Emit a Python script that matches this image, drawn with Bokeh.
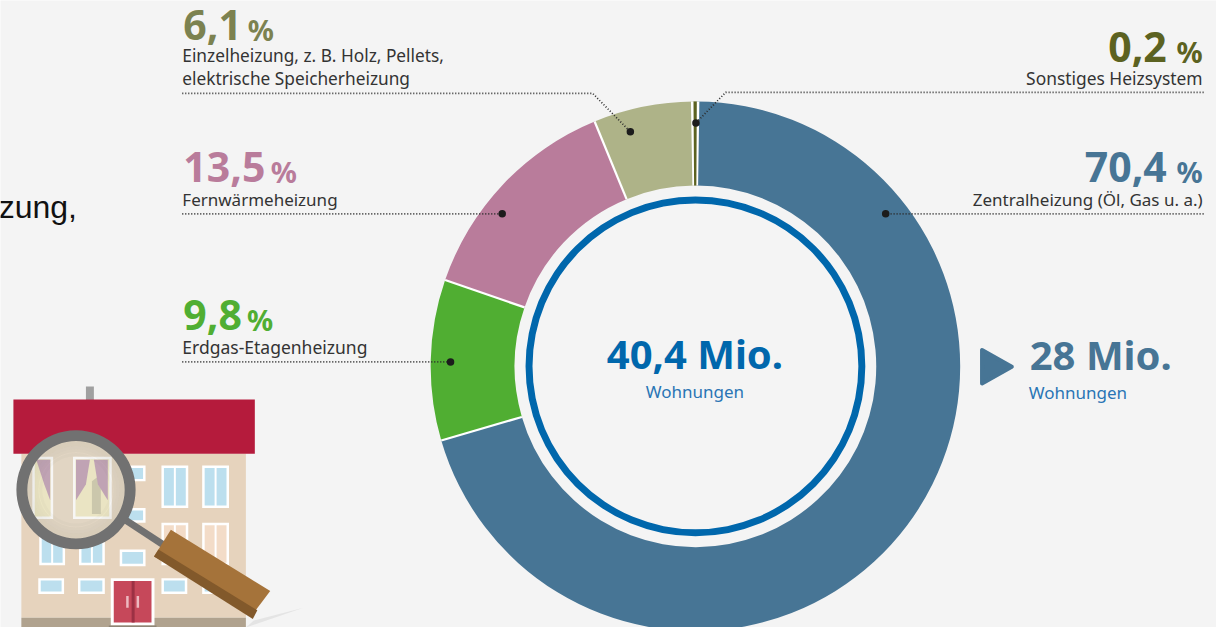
import math
from bokeh.plotting import figure
from bokeh.models import Range1d
from bokeh.core.properties import value
from bokeh.embed import file_html
from bokeh.resources import INLINE

categories = ["Zentralheizung (Öl, Gas u. a.)", "Erdgas-Etagenheizung", "Fernwärmeheizung",
              "Einzelheizung, z. B. Holz, Pellets,\nelektrische Speicherheizung", "Sonstiges Heizsystem"]
shares = [70.4, 9.8, 13.5, 6.1, 0.2]
share_labels = ["70,4", "9,8", "13,5", "6,1", "0,2"]
total_label = "40,4 Mio."
sub_label = "28 Mio."
unit_label = "Wohnungen"

BG = "#f4f4f4"
slice_colors = ["#477595", "#50ae32", "#b97c9b", "#aeb388", "#5c6221"]
number_colors = ["#477595", "#50ae32", "#b97c9b", "#7c8250", "#5c6221"]
W, H = 1224, 635
PW, PH = 1216, 627
CX, CY, R_OUT, R_IN = 699.5, 370.5, 266.5, 182
START = math.radians(0.3)
GAP = math.radians(0.55)


def Y(v):
    return H - v


def YS(vs):
    return [H - v for v in vs]


p = figure(width=PW, height=PH, output_backend="svg", toolbar_location=None,
           x_range=Range1d(0, W), y_range=Range1d(0, H), min_border=0,
           background_fill_color=BG, border_fill_color=BG, outline_line_color=None)
p.axis.visible = False
p.grid.visible = False

# donut
angles = []
cum = 0.0
for s in shares:
    a0 = math.pi / 2 - START - cum / 100 * 2 * math.pi
    cum += s
    a1 = math.pi / 2 - START - cum / 100 * 2 * math.pi
    angles.append((a0, a1))


def wedge(a0, a1, color):
    p.annular_wedge(x=[CX], y=[Y(CY)], inner_radius=R_IN, outer_radius=R_OUT,
                    start_angle=[a0], end_angle=[a1], direction="clock",
                    fill_color=color, line_color=None)


for (a0, a1), c in zip(angles, slice_colors):
    wedge(a0, a1, c)

# white separators between the slices, drawn from the slice angles
ratio = (PW / W) / (PH / H)
for a0, _ in angles[1:-1]:
    ca, sa = math.cos(a0), math.sin(a0)
    p.segment(x0=[CX + R_IN * ca], y0=[Y(CY) + R_IN * sa * ratio],
              x1=[CX + R_OUT * ca], y1=[Y(CY) + R_OUT * sa * ratio],
              line_color="white", line_width=2.2)
# the smallest slice keeps a white gap on both sides
a0, a1 = angles[-1]
wedge(a0 + GAP, a1 - GAP, "white")
wedge(a0, a1, slice_colors[-1])

p.annulus(x=[CX], y=[Y(CY)], inner_radius=164, outer_radius=171, fill_color="#0067ac", line_color=None)

# leader lines
dark = "#2b2b2b"
leaders = [
    ([183, 596, 634], [94, 94, 133]),
    ([183, 505], [216, 216]),
    ([183, 453], [366, 366]),
    ([1211, 730, 700], [93, 93, 124]),
    ([1211, 891], [216, 216]),
]
for xs, ys in leaders:
    p.line(xs, YS(ys), line_color=dark, line_width=1.7, line_dash="1 2")
    p.scatter([xs[-1]], [Y(ys[-1])], size=7.5, marker="circle", fill_color="#1c1c1c", line_color=None)


def txt(x, y, s, size, color, bold=False, align="left", font="Noto Sans"):
    p.text([x], [Y(y - 0.4 * size)], text=[s], text_font=value(font), text_font_size=f"{size}px",
           text_color=color, text_align=align, text_baseline="alphabetic",
           text_font_style="bold" if bold else "normal")


label_color = "#333333"
NUM, PCT = 41, 29
txt(184, 41, share_labels[3], NUM, number_colors[3], True)
txt(249, 41, "%", PCT, number_colors[3], True)
txt(183, 63, "Einzelheizung, z. B. Holz, Pellets,", 17.3, label_color)
txt(183, 86, "elektrische Speicherheizung", 17.3, label_color)

txt(184, 185, share_labels[2], NUM, number_colors[2], True)
txt(272, 185, "%", PCT, number_colors[2], True)
txt(183, 208, "Fernwärmeheizung", 17, label_color)

txt(184, 335, share_labels[1], NUM, number_colors[1], True)
txt(248, 335, "%", PCT, number_colors[1], True)
txt(183, 358, "Erdgas-Etagenheizung", 17.5, label_color)

txt(1174, 63, share_labels[4], NUM, number_colors[4], True, "right")
txt(1210, 63, "%", PCT, number_colors[4], True, "right")
txt(1210, 85, "Sonstiges Heizsystem", 17.4, label_color, False, "right")

txt(1174, 185, share_labels[0], NUM, number_colors[0], True, "right")
txt(1210, 185, "%", PCT, number_colors[0], True, "right")
txt(1210, 208, "Zentralheizung (Öl, Gas u. a.)", 17, label_color, False, "right")

txt(699, 374, total_label, 40, "#0067ac", True, "center")
txt(699, 403, unit_label, 17, "#2a75b5", False, "center")
txt(1036, 375, sub_label, 40, "#477595", True)
txt(1035, 404, unit_label, 17, "#2a75b5")

txt(77, 222, "zung,", 32, "#111111", False, "right", "Liberation Sans")

# arrow
p.patch([988, 988, 1018], YS([354, 388, 371]), fill_color="#477595", line_color="#477595",
        line_width=4, line_join="round")


# --- house illustration ---
def box(x0, y0, x1, y1, color):
    p.quad(left=[x0], right=[x1], top=[Y(y0)], bottom=[Y(y1)], fill_color=color, line_color=None)


def window(x0, y0, x1, y1, pane="#bcdfee", split=True):
    box(x0, y0, x1, y1, "white")
    if split:
        mid = (x0 + x1) / 2
        box(x0 + 2.5, y0 + 2.5, mid - 1, y1 - 2.5, pane)
        box(mid + 1, y0 + 2.5, x1 - 2.5, y1 - 2.5, pane)
    else:
        box(x0 + 2.5, y0 + 2.5, x1 - 2.5, y1 - 2.5, pane)


p.patch([255, 305, 247], YS([628, 615, 635]), fill_color="#e4e4e4", line_color=None)
box(21, 459, 247, 625, "#e6d3bd")
box(21, 625, 247, 635, "#b0a28e")
box(86, 391, 94, 411, "#a0a0a0")
box(13, 404, 256, 459, "#b51b3c")

window(162, 471, 189, 514)
window(203, 471, 230, 514)
window(120, 471, 146, 487, split=False)
window(120, 514, 146, 529, split=False)
window(39, 529, 65, 572)
window(79, 529, 105, 572)
window(120, 556, 146, 573, split=False)
window(162, 529, 189, 572, pane="#f3dcc8")
window(203, 529, 230, 572, pane="#f3dcc8")
window(38, 585, 64, 601, split=False)
window(78, 585, 105, 601, split=False)
window(162, 585, 188, 601, split=False)
window(203, 585, 230, 601, split=False)

# door
box(111, 585, 155, 633, "white")
box(114, 588, 152, 630, "#c6485a")
box(132, 588, 135, 630, "#9c3144")
box(126.5, 603, 129, 615, "#edb9c0")
box(137, 603, 139.5, 615, "#edb9c0")
box(109, 633, 157, 635, "#8f8677")

# magnifier
MX, MY = 76, 495.5
p.line([124, 165], YS([525, 552]), line_color="#717171", line_width=7)
p.circle(x=[MX], y=[Y(MY)], radius=50, fill_color="#e4d6c2", line_color=None)
window(32, 462, 53, 525, pane="#efe9c2", split=False)
window(73, 462, 112, 525, pane="#efe9c2", split=False)
p.patch([79, 92, 92, 101, 101], YS([520, 520, 487, 480, 520]), fill_color="#c9c5a6", line_color=None)
p.patch([36, 50, 50, 44], YS([465, 465, 506, 490]), fill_color="#bb98b0", line_color=None)
p.patch([76, 90, 86, 76], YS([465, 465, 490, 506]), fill_color="#bb98b0", line_color=None)
p.patch([94, 108, 108, 98], YS([465, 465, 506, 490]), fill_color="#bb98b0", line_color=None)
p.circle(x=[MX], y=[Y(MY)], radius=50, fill_color="#d8d4c8", fill_alpha=0.2, line_color=None)
for r, a in [(50, 0.08), (47, 0.08), (44, 0.06), (41, 0.05), (37, 0.03)]:
    p.annulus(x=[MX], y=[Y(MY)], inner_radius=r - 3, outer_radius=r, fill_color="#6e6e5e",
              fill_alpha=a, line_color=None)
p.annulus(x=[MX], y=[Y(MY)], inner_radius=49, outer_radius=60, fill_color="#717171", line_color=None)

p.patch([171.5, 271.5, 256.5, 154.5], YS([536, 598, 618, 563]), fill_color="#a5733a", line_color=None)
p.patch([159, 258.5, 254, 154.5], YS([556, 617.5, 626.5, 563]), fill_color="#82592b", line_color=None)

open("out.html", "w").write(file_html(p, INLINE))
